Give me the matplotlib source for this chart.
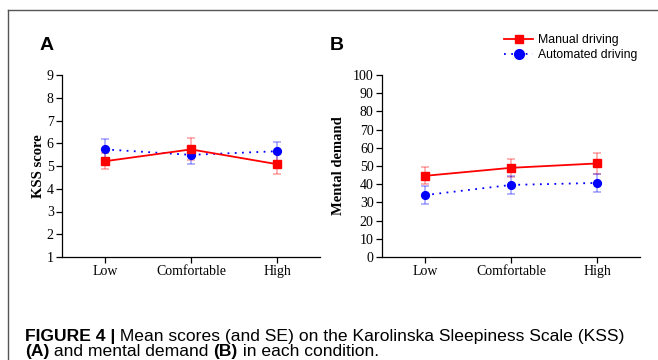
import matplotlib
matplotlib.use("Agg")
import matplotlib.pyplot as plt
from matplotlib.lines import Line2D

conditions = ["Low", "Comfortable", "High"]

kss_manual = [5.21, 5.73, 5.08]
kss_manual_se = [0.36, 0.48, 0.45]
kss_auto = [5.73, 5.49, 5.65]
kss_auto_se = [0.45, 0.41, 0.42]

md_manual = [44.6, 49.0, 51.4]
md_manual_se = [4.7, 4.9, 5.9]
md_auto = [34.0, 39.6, 40.7]
md_auto_se = [4.8, 4.9, 4.8]

serif = "Liberation Serif"
sans = "Liberation Sans"
red = "#ff0000"
blue = "#0000ff"


def panel(ax, manual, manual_se, auto, auto_se, ylim, yticks, ylabel, label_x):
    x = range(len(conditions))
    ax.errorbar(x, manual, yerr=manual_se, fmt="none", ecolor=red, alpha=0.35,
                elinewidth=1.2, capsize=3, capthick=1.2, zorder=1)
    ax.errorbar(x, auto, yerr=auto_se, fmt="none", ecolor=blue, alpha=0.35,
                elinewidth=1.2, capsize=3, capthick=1.2, zorder=1)
    ax.plot(x, manual, color=red, lw=1.3, marker="s", ms=5.2, zorder=3)
    ax.plot(x, auto, color=blue, lw=1.3, ls=(0, (1, 3)), marker="o", ms=5.6, zorder=2)
    ax.set_xlim(-0.5, 2.5)
    ax.set_ylim(*ylim)
    ax.set_yticks(yticks)
    ax.set_xticks(list(x))
    ax.set_xticklabels(conditions, family=serif, fontsize=10)
    for lab in ax.get_yticklabels():
        lab.set_family(serif)
        lab.set_fontsize(10)
    ax.set_ylabel(ylabel, family=serif, fontweight="bold", fontsize=10.5)
    ax.yaxis.set_label_coords(label_x, 0.5)
    ax.spines["top"].set_visible(False)
    ax.spines["right"].set_visible(False)
    for s in ("left", "bottom"):
        ax.spines[s].set_linewidth(0.9)
    ax.tick_params(direction="out", length=4, width=0.9, pad=2)


fig = plt.figure(figsize=(6.58, 3.6), dpi=100)
W, H = 658, 360

ax_a = fig.add_axes([62 / W, 1 - 257 / H, 258 / W, 182 / H])
ax_b = fig.add_axes([382 / W, 1 - 257 / H, 258 / W, 182 / H])

panel(ax_a, kss_manual, kss_manual_se, kss_auto, kss_auto_se, (1, 9), range(1, 10),
      "KSS score", -0.066)
panel(ax_b, md_manual, md_manual_se, md_auto, md_auto_se, (0, 100), range(0, 101, 10),
      "Mental demand", -0.143)

fig.text(40 / W, 1 - 45 / H, "A", family=sans, fontweight="bold", fontsize=14, va="center")
fig.text(330 / W, 1 - 45 / H, "B", family=sans, fontweight="bold", fontsize=14, va="center")

handles = [
    Line2D([], [], color=red, lw=1.3, marker="s", ms=6),
    Line2D([], [], color=blue, lw=1.3, ls=(0, (1, 3)), marker="o", ms=7),
]
fig.legend(handles, ["Manual driving", "Automated driving"], loc="upper left",
           bbox_to_anchor=(498 / W, 1 - 28 / H), frameon=False, handlelength=2.4,
           handletextpad=0.4, labelspacing=0.25, borderpad=0, prop={"family": sans, "size": 8.8})

# frame around figure
fig.add_artist(Line2D([8 / W, 8 / W], [0, 1 - 10 / H], color="#555555", lw=1))
fig.add_artist(Line2D([8 / W, 1], [1 - 10 / H, 1 - 10 / H], color="#555555", lw=1))

# caption
renderer = fig.canvas.get_renderer()


def caption_line(y, parts):
    xpos = 25 / W
    for txt, bold in parts:
        t = fig.text(xpos, y, txt, family=sans, fontsize=12.6,
                     fontweight="bold" if bold else "normal", va="baseline")
        bb = t.get_window_extent(renderer)
        xpos = bb.x1 / W


caption_line(1 - 341 / H, [("FIGURE 4 |", True),
                          (" Mean scores (and SE) on the Karolinska Sleepiness Scale (KSS)", False)])
caption_line(1 - 356 / H, [("(A)", True), (" and mental demand ", False), ("(B)", True),
                          (" in each condition.", False)])

fig.savefig("out.png", dpi=100)
